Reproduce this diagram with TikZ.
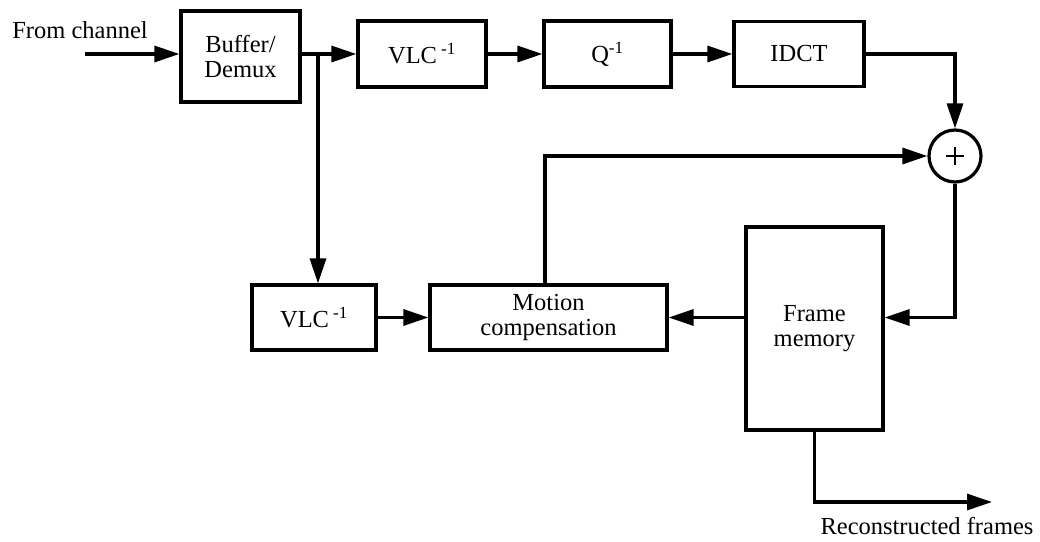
\documentclass[tikz,border=0pt]{standalone}
\usepackage{fontspec}
\setmainfont{Liberation Serif}
\usetikzlibrary{arrows.meta,positioning}
\begin{document}
\begin{tikzpicture}[x=1pt,y=-1pt,
  line width=3.2pt,
  every node/.style={font=\fontsize{24.5}{25}\selectfont},
  blk/.style={draw,rectangle,inner sep=0pt,align=center},
  conn/.style={-{Triangle[length=25pt,width=16pt]}},
  lbl/.style={inner sep=0pt}]
\useasboundingbox (0,0) rectangle (1040,541);
\node[blk,minimum width=119pt,minimum height=91pt] (buf) at (240.5,56.5) {Buffer/\\Demux};
\node[blk,minimum width=128pt,minimum height=66pt] (vlca) at (422,54) {VLC\,\textsuperscript{-1}};
\node[blk,minimum width=127pt,minimum height=66pt] (q) at (607.5,54) {Q\textsuperscript{-1}};
\node[blk,minimum width=130pt,minimum height=65pt] (idct) at (799,54) {IDCT};
\node[draw,circle,minimum size=52pt,inner sep=0pt] (sum) at (955,156) {};
\draw[line width=2.6pt] ([xshift=-9pt]sum.center) -- ([xshift=9pt]sum.center)
  ([yshift=-9pt]sum.center) -- ([yshift=9pt]sum.center);
\node[blk,minimum width=124pt,minimum height=65pt] (vlcb) at (314,317.5) {VLC\,\textsuperscript{-1}};
\node[blk,minimum width=237pt,minimum height=65pt] (mc) at (548.5,317.5) {Motion\\compensation};
\node[blk,minimum width=137pt,minimum height=203pt] (fm) at (814.5,328.5) {Frame\\memory};
\node[lbl] (fromch) at (80,30) {From channel};
\node[lbl] (recon) at (927,526) {Reconstructed frames};
\coordinate (in) at (85,54);
\coordinate (branch) at (318,54);
\coordinate (out) at (992,502);
\draw[conn] (in) -- (buf.west |- in);
\draw[conn] (buf.east |- vlca.west) -- (vlca.west);
\draw[conn] (branch) -- (branch |- vlcb.north);
\draw[conn] (vlca) -- (q);
\draw[conn] (q) -- (idct);
\draw[conn] (idct.east) -| (sum.north);
\draw[conn] ([xshift=-3.5pt]mc.north) |- (sum.west);
\draw[conn] (sum.south) |- (fm.east |- mc.east);
\draw[conn] (fm.west |- mc.east) -- (mc.east);
\draw[conn] (vlcb) -- (mc);
\draw[conn] (fm.south) |- (out);
\end{tikzpicture}
\end{document}
